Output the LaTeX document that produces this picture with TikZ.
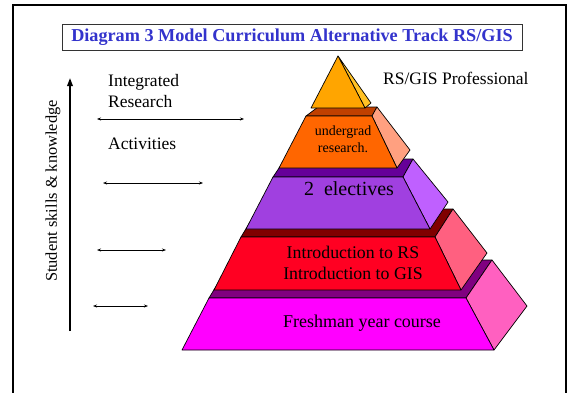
\documentclass[tikz,border=0pt]{standalone}
\usepackage{fontspec}
\setmainfont{Liberation Serif}
\usetikzlibrary{arrows.meta}
\definecolor{titleblue}{HTML}{3333CC}
\definecolor{pyrfront}{HTML}{FFA500}
\definecolor{pyrside}{HTML}{FFC125}
\definecolor{orgfront}{HTML}{FF6600}
\definecolor{orgtop}{HTML}{C04000}
\definecolor{orgside}{HTML}{FFA080}
\definecolor{purfront}{HTML}{A040E0}
\definecolor{purtop}{HTML}{660099}
\definecolor{purside}{HTML}{BF60FF}
\definecolor{redfront}{HTML}{FF0022}
\definecolor{redtop}{HTML}{800000}
\definecolor{redside}{HTML}{FF6080}
\definecolor{magfront}{HTML}{FF00FF}
\definecolor{magtop}{HTML}{800080}
\definecolor{magside}{HTML}{FF60C0}
\tikzset{
  face/.style={draw=black, line width=0.7pt, line join=round},
  lbl/.style={inner sep=0pt, font=\fontsize{17.5}{20}\selectfont},
  blocklbl/.style={inner sep=0pt, align=center, font=\fontsize{18}{20}\selectfont},
  dblarrow/.style={{Stealth[length=4pt,width=3pt]}-{Stealth[length=4pt,width=3pt]}, line width=0.7pt},
}
\begin{document}
\begin{tikzpicture}[x=1pt,y=-1pt]
\useasboundingbox (0,0) rectangle (568,392);
\clip (0,0) rectangle (568,392);
% outer frame
\draw[line width=2.2pt] (13,5) rectangle (566,410);
% title
\node[draw=black!80, line width=0.8pt, minimum width=460pt, minimum height=26pt, inner sep=0pt,
  font=\fontsize{18.2}{20}\selectfont\bfseries, text=titleblue] (title) at (292,37)
  {Diagram 3 Model Curriculum Alternative Track RS/GIS};
% vertical axis
\coordinate (axbot) at (70,331);
\coordinate (axtop) at (70,78);
\draw[line width=1.6pt, -{Triangle[length=8pt,width=5.5pt]}] (axbot) -- (axtop);
\node[lbl, rotate=90, font=\fontsize{16.4}{18}\selectfont] (axlbl) at (53,191) {Student skills \& knowledge};
% left labels
\node[lbl, anchor=base west] (integ) at (108,86) {Integrated};
\node[lbl, anchor=base west] (resea) at (108,107) {Research};
\node[lbl, anchor=base west] (activ) at (108,149) {Activities};
\node[lbl, anchor=base west] (prof) at (383,84) {RS/GIS Professional};
% double arrows
\coordinate (a1l) at (97,119); \coordinate (a1r) at (244,119);
\coordinate (a2l) at (103,183); \coordinate (a2r) at (203,183);
\coordinate (a3l) at (97,250); \coordinate (a3r) at (166,250);
\coordinate (a4l) at (93,306); \coordinate (a4r) at (148,306);
\draw[dblarrow] (a1l) -- (a1r);
\draw[dblarrow] (a2l) -- (a2r);
\draw[dblarrow] (a3l) -- (a3r);
\draw[dblarrow] (a4l) -- (a4r);
% magenta block (bottom)
\draw[face, fill=magtop] (209,298) -- (466,298) -- (492,260) -- (232,260) -- cycle;
\draw[face, fill=magside] (466,298) -- (492,260) -- (527,306) -- (494,350) -- cycle;
\draw[face, fill=magfront] (209,298) -- (466,298) -- (494,350) -- (182,350) -- cycle;
% red block
\draw[face, fill=redtop] (241,237) -- (435,237) -- (453,209) -- (258,209) -- cycle;
\draw[face, fill=redside] (435,237) -- (453,209) -- (487,253) -- (461,290) -- cycle;
\draw[face, fill=redfront] (241,237) -- (435,237) -- (461,290) -- (214,290) -- cycle;
% purple block
\draw[face, fill=purtop] (273,177) -- (403,177) -- (413,159) -- (285,159) -- cycle;
\draw[face, fill=purside] (403,177) -- (413,159) -- (448,202) -- (430,229) -- cycle;
\draw[face, fill=purfront] (273,177) -- (403,177) -- (430,229) -- (246,229) -- cycle;
% orange block
\draw[face, fill=orgtop] (306,116) -- (372,116) -- (377,107) -- (318,107) -- cycle;
\draw[face, fill=orgside] (372,116) -- (377,107) -- (410,150) -- (397,168) -- cycle;
\draw[face, fill=orgfront] (306,116) -- (372,116) -- (397,168) -- (279,168) -- cycle;
% apex pyramid
\draw[face, fill=pyrside] (338,56) -- (371,103) -- (365,108) -- cycle;
\draw[face, fill=pyrfront] (338,56) -- (365,108) -- (311,108) -- cycle;
% block labels
\node[blocklbl, font=\fontsize{14}{17}\selectfont] (ug) at (343,139) {undergrad\\research.};
\node[blocklbl, font=\fontsize{20}{22}\selectfont] (el) at (349,189) {2\ \ electives};
\node[blocklbl, font=\fontsize{17.8}{20.5}\selectfont] (intro) at (353,263) {Introduction to RS\\Introduction to GIS};
\node[blocklbl] (fresh) at (362,323) {Freshman year course};
\end{tikzpicture}
\end{document}
